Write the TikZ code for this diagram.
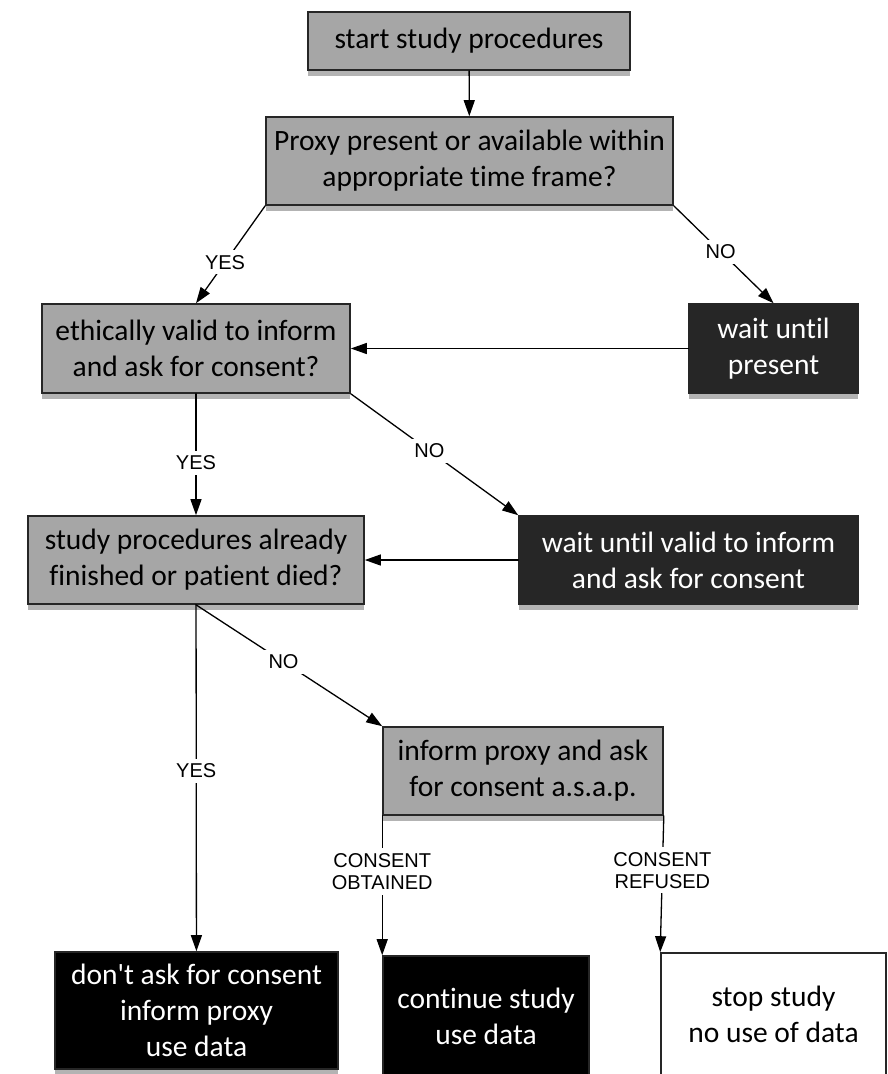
\documentclass[tikz,border=0pt]{standalone}
\usepackage{fontspec}
\newfontfamily\boxfont{Carlito}[Ligatures=NoCommon]
\newfontfamily\labelfont{Liberation Sans}
\usetikzlibrary{arrows.meta,shadows}

\begin{document}
\begin{tikzpicture}[x=1pt, y=-1pt,
                    >={Triangle[length=16pt,width=11pt]}, line cap=round,
                    box/.style={draw=black!85, line width=1.6pt, align=center,
                        inner sep=0pt, font=\boxfont\fontsize{29.5}{36}\selectfont,
                        drop shadow={shadow xshift=0pt, shadow yshift=-6pt,
                                     opacity=0.6}},
                    query/.style={box, fill=black!35},
                    waitbox/.style={box, fill=black!85, text=white},
                    endbox/.style={box, fill=black, text=white},
                    stopbox/.style={box, fill=white},
                    lab/.style={fill=white, inner sep=5pt, align=center,
                        font=\labelfont\fontsize{20}{22}\selectfont},
                    flow/.style={->, line width=1.3pt}
                   ]
\useasboundingbox (0,0) rectangle (887,1074);

% boxes
\node [query, minimum width=322pt, minimum height=58pt] (start) at (469,41)
    {start study procedures};
\node [query, minimum width=407pt, minimum height=88pt] (proxy) at (469.5,161)
    {Proxy present or available within\\appropriate time frame?};
\node [query, minimum width=308pt, minimum height=89pt] (ethic) at (196,348.5)
    {ethically valid to inform\\and ask for consent?};
\node [waitbox, minimum width=169pt, minimum height=89pt] (waitp) at (773.5,348.5)
    {wait until\\present};
\node [query, minimum width=336pt, minimum height=88pt] (study) at (196,560)
    {study procedures already\\finished or patient died?};
\node [waitbox, minimum width=339pt, minimum height=88pt] (waitv) at (688.5,560)
    {wait until valid to inform\\and ask for consent};
\node [query, minimum width=280pt, minimum height=88pt] (inform) at (523,771)
    {inform proxy and ask\\for consent a.s.a.p.};
\node [endbox, minimum width=283pt, minimum height=117pt] (dont) at (196.5,1010.5)
    {don't ask for consent\\inform proxy\\use data};
\node [endbox, minimum width=206pt, minimum height=120pt] (cont) at (486,1016)
    {continue study\\use data};
\node [stopbox, minimum width=225pt, minimum height=122pt] (stop) at (773.5,1014)
    {stop study\\no use of data};

% connectors
\draw [flow] (start) -- (proxy);
\draw [flow] (proxy.south west) -- node[lab, pos=0.58] {YES} (ethic.north);
\draw [flow] (proxy.south east) -- node[lab, pos=0.47] {NO} (waitp.north);
\draw [flow] (waitp) -- (ethic);
\draw [flow] (ethic) -- node[lab, pos=0.57] {YES} (study);
\draw [flow] (ethic.south east) -- node[lab, pos=0.47] {NO} (waitv.north west);
\draw [flow] (waitv) -- (study);
\draw [flow] (study.south) -- node[lab, pos=0.47] {NO} (inform.north west);
\draw [flow] (study) -- node[lab, pos=0.48] {YES} (dont);
\draw [flow] (inform.south west) -- node[lab, pos=0.4] {CONSENT\\OBTAINED} (cont.north west);
\draw [flow] (inform.south east) -- node[lab, pos=0.4] {CONSENT\\REFUSED} (stop.north west);
\end{tikzpicture}
\end{document}
